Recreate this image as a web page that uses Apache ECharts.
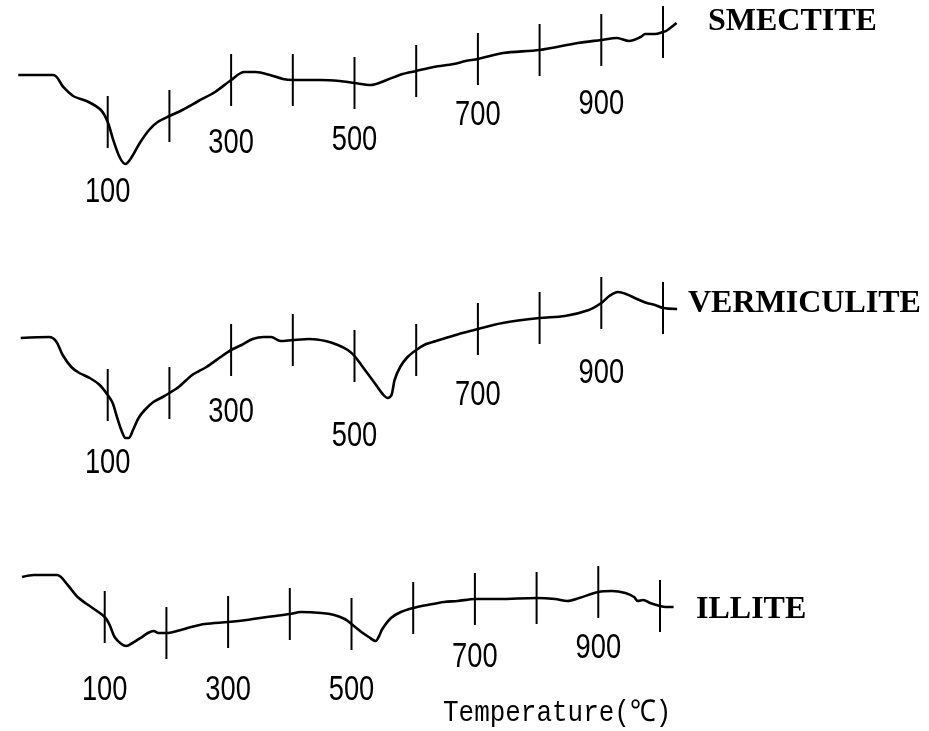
<!DOCTYPE html>
<html><head><meta charset="utf-8">
<script src="https://cdn.jsdelivr.net/npm/echarts@6/dist/echarts.min.js"></script>
<style>html,body{margin:0;padding:0;background:#fff}#c{width:929px;height:731px}</style>
</head><body><div id="c"></div>
<script>
// ---- data (temperature in °C, DTA signal in arbitrary units, higher = exothermic) ----
const tickTemps = [100, 200, 300, 400, 500, 600, 700, 800, 900, 1000];
const labelTemps = [100, 300, 500, 700, 900];
const tickLabels = ['100', '300', '500', '700', '900'];
const sampleNames = ['SMECTITE', 'VERMICULITE', 'ILLITE'];
const axisTitle = 'Temperature(℃)';

const smectite = [
  [-45,125],[12,125],[28,113],[44,104],[69,98],[89,90],[100,78],[109,60],[120,42],[129,36],
  [138,42],[152,57],[167,70],[181,78],[200,84],[221,90],[247,99],[274,108],[300,120],[321,128],
  [340,128],[363,125],[384,121],[400,120],[444,120],[476,119],[500,117],[526,115],[552,120],[578,126],
  [600,129],[628,133],[661,136],[680,139],[700,141],[741,147],[800,150],[862,157],[900,160],[925,162],
  [945,159],[964,163],[971,166],[987,166],[1000,168],[1005,169],[1022,177]
];
const vermiculite = [
  [-41,122],[5,123],[16,119],[27,105],[41,93],[54,87],[71,82],[87,75],[100,65],[108,57],
  [115,43],[122,30],[129,22],[134,22],[141,30],[150,42],[160,50],[174,58],[189,63],[200,67],
  [215,73],[237,85],[260,93],[283,103],[300,110],[317,115],[335,121],[353,123],[365,123],[380,119],
  [400,120],[427,121],[453,119],[473,115],[489,110],[500,104],[511,95],[523,85],[535,75],[547,65],
  [554,62],[560,65],[565,80],[574,93],[586,103],[600,110],[616,116],[632,119],[653,123],[675,127],
  [700,131],[740,137],[800,142],[841,144],[880,150],[900,157],[913,164],[927,168],[940,166],[958,161],
  [974,157],[987,155],[1000,152],[1023,151]
];
const illite = [
  [-34,153],[-15,155],[23,155],[40,145],[56,133],[78,123],[100,113],[108,105],[116,93],[127,86],
  [135,84],[145,87],[158,92],[170,97],[179,99],[187,97],[200,97],[217,99],[240,103],[262,106],
  [300,108],[330,110],[363,113],[400,116],[418,118],[451,117],[472,115],[489,111],[500,106],[516,98],
  [528,93],[539,89],[544,93],[550,101],[564,112],[580,118],[600,122],[623,125],[650,128],[672,129],
  [700,131],[739,131],[800,132],[830,131],[850,129],[869,132],[900,138],[922,139],[944,137],[958,133],
  [964,129],[973,130],[984,127],[1000,124],[1009,123],[1022,123]
];

// ---- layout / style (not data) ----
const panels = [
  { top: 0,   left: 9, labelDy: [70, 63, 57, 56, 64], nameX: 708, nameY: 22 },
  { top: 260, left: 9, labelDy: [68, 62, 80, 66, 70], nameX: 688, nameY: 304 },
  { top: 530, left: 6, labelDy: [73, 68, 66, 58, 56], nameX: 696, nameY: 610 }
];
const curves = [smectite, vermiculite, illite];
const TICK_HALF = 26;
const numFont = "'Liberation Sans',Arial,sans-serif";

function valueAt(data, t) {
  for (let i = 0; i < data.length - 1; i++) {
    const a = data[i], b = data[i + 1];
    if (t >= a[0] && t <= b[0]) {
      const f = (t - a[0]) / (b[0] - a[0]);
      return a[1] + f * (b[1] - a[1]);
    }
  }
  return data[data.length - 1][1];
}

const grid = [], xAxis = [], yAxis = [], series = [];
panels.forEach((p, i) => {
  grid.push({ left: p.left, width: 691, top: p.top, height: 200 });
  xAxis.push({ type: 'value', gridIndex: i, min: -60, max: 1060, show: false });
  yAxis.push({ type: 'value', gridIndex: i, min: 0, max: 200, show: false });
  const data = curves[i];
  series.push({
    type: 'line', xAxisIndex: i, yAxisIndex: i, data: data, showSymbol: false, smooth: 0.3,
    lineStyle: { color: '#000', width: 2.6 }, silent: true, animation: false
  });
  series.push({
    type: 'custom', xAxisIndex: i, yAxisIndex: i, silent: true, animation: false,
    data: tickTemps.map(t => [t, valueAt(data, t)]),
    renderItem: function (params, api) {
      const c = api.coord([api.value(0), api.value(1)]);
      return { type: 'line', shape: { x1: c[0], y1: c[1] - TICK_HALF, x2: c[0], y2: c[1] + TICK_HALF },
        style: { stroke: '#000', lineWidth: 2 } };
    }
  });
  series.push({
    type: 'custom', xAxisIndex: i, yAxisIndex: i, silent: true, animation: false,
    data: labelTemps.map((t, k) => [t, valueAt(data, t), k]),
    renderItem: function (params, api) {
      const c = api.coord([api.value(0), api.value(1)]);
      const k = api.value(2);
      return { type: 'text', x: c[0], y: c[1] + p.labelDy[k], scaleX: 0.78,
        style: { text: tickLabels[k], fill: '#000', font: '35px ' + numFont, align: 'center', verticalAlign: 'middle' } };
    }
  });
});

const graphic = panels.map((p, i) => ({
  type: 'text', x: p.nameX, y: p.nameY,
  style: { text: sampleNames[i], fill: '#000', font: "bold 32px 'Liberation Serif','DejaVu Serif',serif", verticalAlign: 'middle' }
}));
graphic.push({
  type: 'text', x: 443, y: 713, scaleX: 0.865,
  style: { text: axisTitle, fill: '#000', font: "30px 'Liberation Mono','DejaVu Sans Mono',monospace", verticalAlign: 'middle' }
});

const chart = echarts.init(document.getElementById('c'), null, { renderer: 'canvas' });
chart.setOption({ backgroundColor: '#fff', animation: false, grid, xAxis, yAxis, series, graphic });
</script></body></html>
